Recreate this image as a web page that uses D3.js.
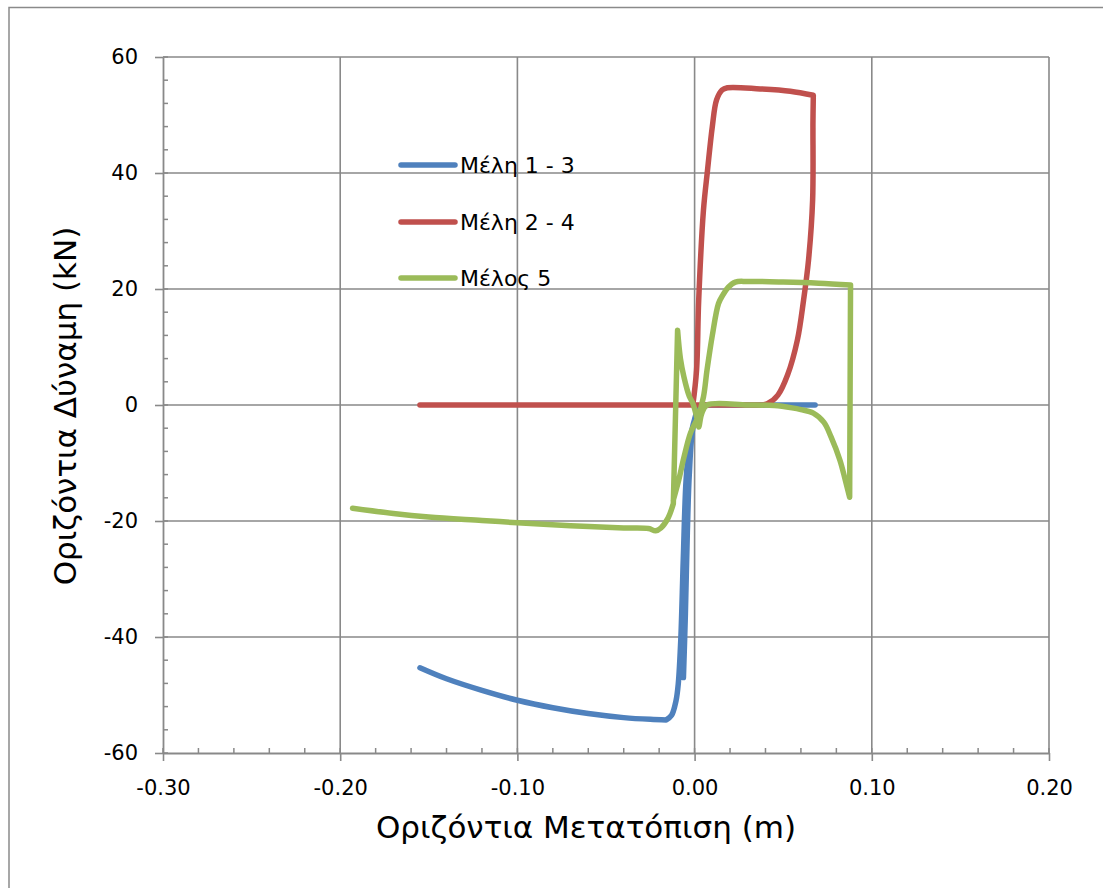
<!DOCTYPE html>
<html>
<head>
<meta charset="utf-8">
<script src="https://cdn.jsdelivr.net/npm/d3@7"></script>
<style>
  body { margin: 0; background: #fff; }
  svg { display: block; font-family: "DejaVu Sans", Verdana, sans-serif; }
</style>
</head>
<body>
<div id="chart"></div>
<script>
// Dati: spostamento (m), forza (kN)
// (i punti ripetuti segnano gli spigoli vivi della curva)
const seriesNames = ["Μέλη 1 - 3", "Μέλη 2 - 4", "Μέλος 5"];
const seriesColors = ["#4F81BD", "#C0504D", "#9BBB59"];

const members13 = [
  [0.068, 0], [0.04, 0], [0.01, 0], [0.0073, 0], [0.004, -0.3], [0.001, -1.5],
  [-0.001, -4], [-0.0025, -8], [-0.0034, -12.9], [-0.0045, -26.7], [-0.0057, -40.5],
  [-0.0063, -47], [-0.0063, -47], [-0.0052, -36], [-0.0041, -22], [-0.003, -12],
  [-0.001, -4], [0.002, -0.8], [0.006, 0], [0.006, 0], [0.003, -0.6], [0, -2.5],
  [-0.003, -7], [-0.0048, -12.9], [-0.0064, -26.7], [-0.0078, -40.5], [-0.0092, -48],
  [-0.0105, -51], [-0.013, -53.5], [-0.016, -54.3], [-0.016, -54.3], [-0.025, -54.2],
  [-0.04, -53.9], [-0.06, -53.2], [-0.08, -52.2], [-0.10, -50.9], [-0.12, -49.2],
  [-0.14, -47.2], [-0.155, -45.3]
];

const members24 = [
  [-0.155, 0], [-0.10, 0], [-0.05, 0], [-0.001, 0], [-0.001, 0], [0.0011, 6], [0.0023, 18],
  [0.005, 33.6], [0.0073, 40.5], [0.010, 48], [0.0124, 52.6], [0.0155, 54.3],
  [0.0185, 54.7], [0.037, 54.5], [0.054, 54.1], [0.067, 53.4], [0.067, 53.4], [0.0668, 49],
  [0.0666, 35.3], [0.0643, 25], [0.0615, 18.1], [0.058, 11.2], [0.0525, 5.2],
  [0.047, 1.7], [0.041, 0.2], [0.037, 0], [0.037, 0], [0.0, 0]
];

const member5 = [
  [-0.193, -17.8], [-0.17, -18.7], [-0.15, -19.3], [-0.12, -19.9], [-0.10, -20.3],
  [-0.07, -20.8], [-0.04, -21.2], [-0.026, -21.3], [-0.022, -21.7], [-0.019, -21.2],
  [-0.015, -19.5], [-0.012, -17.0], [-0.012, -17.0], [-0.0096, 12.9], [-0.0096, 12.9],
  [-0.008, 8], [-0.006, 4.8], [-0.003, 1.5], [-0.001, 0.3], [0.0015, -2.5], [0.0023, -3.8],
  [0.004, -1.5], [0.007, 0], [0.03, 0], [0.045, -0.1], [0.055, -0.5], [0.060, -0.8],
  [0.067, -1.4], [0.073, -3], [0.077, -5.5], [0.082, -9.5], [0.085, -12.9],
  [0.0875, -15.9], [0.0875, -15.9], [0.088, 20.7], [0.088, 20.7], [0.07, 21.0],
  [0.05, 21.2], [0.03, 21.3], [0.023, 21.2], [0.019, 20.3], [0.016, 19], [0.0135, 17.5],
  [0.010, 12], [0.007, 6], [0.005, 1.4], [0.002, -2], [-0.0023, -4.8], [-0.006, -9],
  [-0.009, -13], [-0.012, -16.4]
];

const xTicks = [-0.30, -0.20, -0.10, 0.00, 0.10, 0.20];
const yTicks = [-60, -40, -20, 0, 20, 40, 60];
const xTitle = "Οριζόντια Μετατόπιση (m)";
const yTitle = "Οριζόντια Δύναμη (kN)";

const width = 1103;
const height = 888;
const gridColor = "#898989";

const svg = d3.select("#chart").append("svg")
  .attr("width", width)
  .attr("height", height);

// bordo esterno (visibile solo in alto e a sinistra)
svg.append("rect")
  .attr("x", 9).attr("y", 7.5)
  .attr("width", width + 20).attr("height", height + 20)
  .attr("fill", "none")
  .attr("stroke", "#8a8a8a")
  .attr("stroke-width", 1.5);

const x = d3.scaleLinear().domain([-0.3, 0.2]).range([163, 1049]);
const y = d3.scaleLinear().domain([-60, 60]).range([753, 57]);

const fmt = d3.formatLocale({ decimal: ".", thousands: ",", grouping: [3], currency: ["", ""], minus: "-" }).format(".2f");

// griglia
svg.append("g").selectAll("line.vg")
  .data(xTicks.slice(1))
  .join("line")
  .attr("x1", d => x(d)).attr("x2", d => x(d))
  .attr("y1", y(60)).attr("y2", y(-60))
  .attr("stroke", gridColor).attr("stroke-width", 1.6);

svg.append("g").selectAll("line.hg")
  .data(yTicks.slice(1))
  .join("line")
  .attr("x1", x(-0.3)).attr("x2", x(0.2))
  .attr("y1", d => y(d)).attr("y2", d => y(d))
  .attr("stroke", gridColor).attr("stroke-width", 1.6);

// tacche minori
const xMinor = d3.range(-0.3, 0.2001, 0.02);
svg.append("g").selectAll("line")
  .data(xMinor)
  .join("line")
  .attr("x1", d => x(d)).attr("x2", d => x(d))
  .attr("y1", y(-60)).attr("y2", y(-60) - 5)
  .attr("stroke", gridColor).attr("stroke-width", 1.5);

const yMinor = d3.range(-60, 60.01, 4);
svg.append("g").selectAll("line")
  .data(yMinor)
  .join("line")
  .attr("x1", x(-0.3)).attr("x2", x(-0.3) + 5)
  .attr("y1", d => y(d)).attr("y2", d => y(d))
  .attr("stroke", gridColor).attr("stroke-width", 1.5);

// assi
const xAxis = svg.append("g")
  .attr("transform", `translate(0,${y(-60)})`)
  .call(d3.axisBottom(x).tickValues(xTicks).tickFormat(fmt).tickSize(8).tickSizeOuter(0).tickPadding(19));

const yAxis = svg.append("g")
  .attr("transform", `translate(${x(-0.3)},0)`)
  .call(d3.axisLeft(y).tickValues(yTicks).tickFormat(d => String(d)).tickSize(8).tickSizeOuter(0).tickPadding(17));

[xAxis, yAxis].forEach(a => {
  a.select(".domain").attr("stroke", gridColor).attr("stroke-width", 1.8);
  a.selectAll(".tick line").attr("stroke", gridColor).attr("stroke-width", 1.6);
  a.selectAll(".tick text")
    .attr("fill", "#000")
    .style("font-family", '"DejaVu Sans", Verdana, sans-serif')
    .style("font-size", "21px");
});

// curve
const line = d3.line()
  .curve(d3.curveCatmullRom.alpha(0.5))
  .x(d => x(d[0])).y(d => y(d[1]));
const allSeries = [members13, members24, member5];

svg.append("g").selectAll("path")
  .data(allSeries)
  .join("path")
  .attr("d", line)
  .attr("fill", "none")
  .attr("stroke", (d, i) => seriesColors[i])
  .attr("stroke-width", 5.5)
  .attr("stroke-linejoin", "round")
  .attr("stroke-linecap", "round");

// legenda
const legend = svg.append("g");
const legendY = [165, 222, 278];
seriesNames.forEach((name, i) => {
  legend.append("line")
    .attr("x1", 401).attr("x2", 455)
    .attr("y1", legendY[i]).attr("y2", legendY[i])
    .attr("stroke", seriesColors[i])
    .attr("stroke-width", 5.5)
    .attr("stroke-linecap", "round");
  legend.append("text")
    .attr("x", 460)
    .attr("y", legendY[i] + 8)
    .attr("font-size", 22)
    .text(name);
});

// titoli degli assi
svg.append("text")
  .attr("x", 586)
  .attr("y", 838)
  .attr("text-anchor", "middle")
  .attr("font-size", 31)
  .text(xTitle);

svg.append("text")
  .attr("transform", `translate(76,406) rotate(-90)`)
  .attr("text-anchor", "middle")
  .attr("font-size", 31)
  .text(yTitle);
</script>
</body>
</html>
